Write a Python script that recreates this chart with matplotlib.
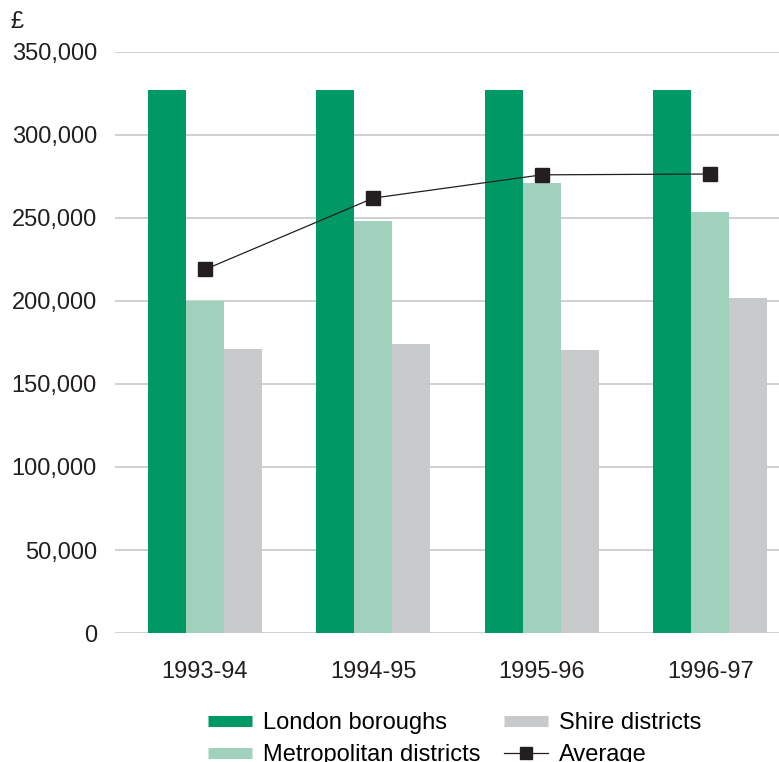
import matplotlib.pyplot as plt
import numpy as np
from matplotlib.lines import Line2D

years = ['1993-94', '1994-95', '1995-96', '1996-97']
london = [327000, 327000, 327000, 327000]
metropolitan = [200000, 248000, 271000, 253500]
shire = [171000, 174000, 170500, 202000]
average = [219000, 262000, 276000, 276500]

green = '#009966'
light_green = '#9fd1bd'
grey = '#c8c9cb'

plt.rcParams['font.family'] = ['Liberation Sans', 'DejaVu Sans']

fig = plt.figure(figsize=(7.79, 7.62), dpi=100)
ax = fig.add_axes([115 / 779, 1 - 633 / 762, 1 - 115 / 779, (633 - 52) / 762])

x = np.arange(len(years))
w = 0.2257
ax.bar(x - w, london, w, color=green, zorder=2)
ax.bar(x, metropolitan, w, color=light_green, zorder=2)
ax.bar(x + w, shire, w, color=grey, zorder=2)
ax.plot(x, average, color='#231f20', lw=0.9, marker='s', ms=9.5,
        markeredgecolor='#231f20', markerfacecolor='#231f20', zorder=3)

ax.set_xlim(-0.534, 3.408)
ax.set_ylim(0, 350000)
ax.set_yticks(np.arange(0, 350001, 50000))
ax.set_yticklabels([f'{v:,}' for v in range(0, 350001, 50000)])
ax.set_xticks(x)
ax.set_xticklabels(years)
ax.grid(axis='y', color='#c8c8c8', lw=1.2, zorder=0)
ax.tick_params(axis='both', length=0, labelsize=17, colors='#231f20')
ax.tick_params(axis='y', pad=13)
ax.tick_params(axis='x', pad=20)
for s in ax.spines.values():
    s.set_visible(False)

fig.text(10 / 779, 1 - 22 / 762, '£', fontsize=17, color='#231f20', va='center')

handles = [
    Line2D([], [], color=green, lw=8, solid_capstyle='butt'),
    Line2D([], [], color=light_green, lw=8, solid_capstyle='butt'),
    Line2D([], [], color=grey, lw=8, solid_capstyle='butt'),
    Line2D([], [], color='#231f20', lw=0.9, marker='s', ms=8.5),
]
labels = ['London boroughs', 'Metropolitan districts', 'Shire districts', 'Average']
fig.legend(handles, labels, ncol=2, loc='upper left', bbox_to_anchor=(208 / 779, 1 - 712 / 762),
           frameon=False, fontsize=17, handlelength=1.86, handletextpad=0.47,
           columnspacing=0.98, labelspacing=0.42, borderpad=0, borderaxespad=0)

fig.savefig('out.png', dpi=100)
